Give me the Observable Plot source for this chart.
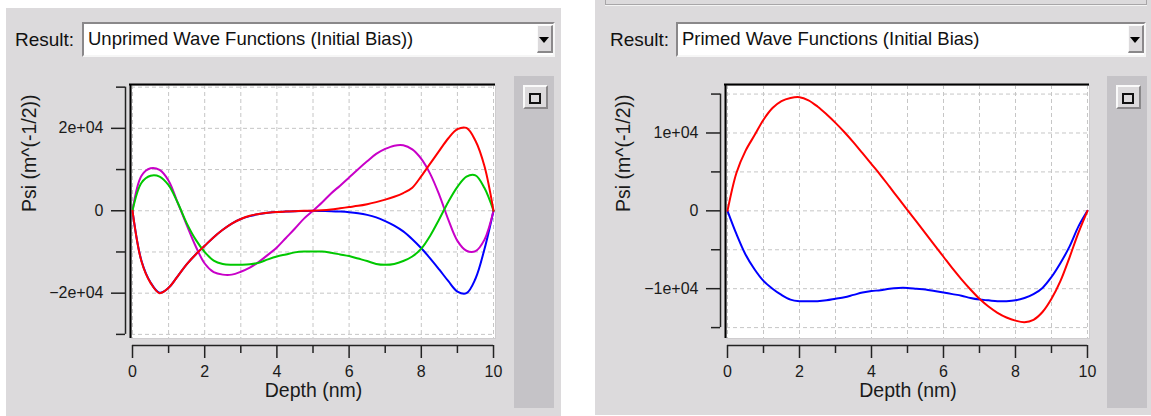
<!DOCTYPE html>
<html><head><meta charset="utf-8">
<script src="https://cdn.jsdelivr.net/npm/d3@7"></script>
<script src="https://cdn.jsdelivr.net/npm/@observablehq/plot@0.6"></script>
<style>
html,body{margin:0;padding:0;background:#fff;width:1151px;height:416px;overflow:hidden;font-family:"Liberation Sans",Arial,sans-serif;}
.panel{position:absolute;background:#dcdadc;}
.topbox{position:absolute;box-sizing:border-box;border-left:1px solid #a8a6a8;border-right:1px solid #a8a6a8;border-bottom:1px solid #a8a6a8;box-shadow:0 1px 0 #f4f4f4;}
.combo{position:absolute;background:#fff;box-sizing:border-box;border-top:2px solid #8a888a;border-left:2px solid #8a888a;border-bottom:2px solid #f6f6f6;border-right:2px solid #f6f6f6;}
.combo .txt{position:absolute;left:4px;top:4px;font-size:18.5px;line-height:22px;color:#111;white-space:nowrap;}
.lbl{position:absolute;font-size:19px;line-height:22px;color:#111;white-space:nowrap;}
.arrow{position:absolute;top:1px;width:16px;height:28px;box-sizing:border-box;background:#dcdadc;border-top:1px solid #fafafa;border-left:1px solid #fafafa;border-bottom:2px solid #8a888a;border-right:2px solid #8a888a;}
.arrow .tri{position:absolute;left:1px;top:11px;width:0;height:0;border-left:5.5px solid transparent;border-right:5.5px solid transparent;border-top:6px solid #000;}
.bar{position:absolute;background:#c5c3c7;}
.btn{position:absolute;box-sizing:border-box;background:#dcdadc;border-top:2px solid #fafafa;border-left:2px solid #fafafa;border-bottom:2px solid #8a888a;border-right:2px solid #8a888a;}
.btn .sq{position:absolute;box-sizing:border-box;border:2px solid #111;}
.plotbox{position:absolute;}
</style></head>
<body>
<div class="panel" style="left:6px;top:8px;width:555px;height:408px;"></div>
<div class="panel" style="left:595px;top:0px;width:556px;height:415px;"></div>
<div class="topbox" style="left:605px;top:-10px;width:542px;height:15px;"></div>

<div class="lbl" style="left:15px;top:29px;">Result:</div>
<div class="combo" style="left:82px;top:22px;width:473px;height:35px;">
  <div class="txt">Unprimed Wave Functions (Initial Bias))</div>
  <div class="arrow" style="left:453px;"><div class="tri"></div></div>
</div>
<div class="lbl" style="left:610px;top:29px;">Result:</div>
<div class="combo" style="left:676px;top:22px;width:470px;height:35px;">
  <div class="txt">Primed Wave Functions (Initial Bias)</div>
  <div class="arrow" style="left:450px;"><div class="tri"></div></div>
</div>

<div class="bar" style="left:514px;top:76px;width:40px;height:332px;"></div>
<div class="btn" style="left:523px;top:85px;width:25px;height:24px;"><div class="sq" style="left:4px;top:6px;width:12px;height:11px;"></div></div>
<div class="bar" style="left:1107px;top:76px;width:40px;height:332px;"></div>
<div class="btn" style="left:1116px;top:85px;width:25px;height:24px;"><div class="sq" style="left:4px;top:6px;width:12px;height:11px;"></div></div>

<div class="plotbox" id="left" style="left:6px;top:70px;"></div>
<div class="plotbox" id="right" style="left:595px;top:70px;"></div>

<script>
// ---------- data ----------
const depth = [0,0.25,0.5,0.75,1,1.25,1.5,1.75,2,2.25,2.5,2.75,3,3.25,3.5,3.75,4,4.25,4.5,4.75,5,5.25,5.5,5.75,6,6.25,6.5,6.75,7,7.25,7.5,7.75,8,8.25,8.5,8.75,9,9.25,9.5,9.75,10];

// Left chart: Unprimed wave functions (Psi, m^(-1/2))
const unprimedBlue = [0,-12200,-17400,-19900,-18700,-15900,-13000,-10600,-8500,-6400,-4600,-3100,-2000,-1300,-800,-500,-300,-200,-100,-50,0,-50,-100,-200,-350,-600,-1000,-1600,-2500,-3600,-5000,-6900,-9100,-11600,-14300,-17100,-19600,-20000,-16500,-9300,0];
const unprimedMagenta = [0,8500,10300,9900,7300,2000,-3400,-8600,-12800,-14900,-15500,-15500,-14800,-13800,-12400,-10700,-8900,-6600,-4300,-1900,0,2000,4200,6100,8100,10100,12000,13800,15000,15800,15900,14900,12600,8900,3800,-2200,-7300,-9700,-9800,-7000,0];
const unprimedGreen = [0,6800,8500,8300,6200,2000,-3000,-7000,-10000,-12100,-12900,-13100,-13100,-13000,-12600,-11800,-11100,-10600,-10100,-9900,-9900,-9900,-10200,-10600,-11000,-11600,-12200,-12900,-13100,-12900,-12200,-11100,-9200,-6000,-2000,2200,5800,8300,8600,5500,0];
const unprimedRed = [0,-12300,-17500,-20000,-18700,-15900,-13000,-10600,-8500,-6400,-4600,-3100,-2000,-1200,-800,-500,-300,-200,-100,0,0,100,300,600,900,1200,1600,2100,2700,3400,4300,5600,8400,11500,14600,17600,19800,20100,17000,10800,0];

// Right chart: Primed wave functions
const primedBlue = [0,-3000,-5600,-7500,-9000,-10000,-10800,-11400,-11600,-11600,-11600,-11500,-11300,-11100,-10800,-10500,-10300,-10200,-10000,-9900,-9900,-10000,-10100,-10300,-10500,-10700,-10900,-11200,-11400,-11500,-11600,-11600,-11500,-11200,-10700,-9900,-8500,-6700,-4600,-2000,0];
const primedRed = [0,4900,7700,9700,11700,13200,14100,14500,14600,14200,13400,12400,11300,10100,8800,7400,6000,4600,3100,1600,100,-1400,-2900,-4400,-5900,-7400,-8800,-10100,-11300,-12300,-13100,-13700,-14100,-14300,-14000,-13000,-11300,-9000,-6000,-2800,0];

const seriesColors = {blue:"#0000ff", magenta:"#c800c8", green:"#00c800", red:"#ff0000"};

// ticks
const xMajorTicks = [0,2,4,6,8,10];
const xMinorTicks = [1,3,5,7,9];
const xGridTicks = [0,1,2,3,4,5,6,7,8,9,10];

const leftYMajor = [-20000,0,20000];
const leftYMajorLabels = ["\u22122e+04","0","2e+04"];
const leftYMinor = [-30000,-10000,10000,30000];
const leftYGrid = [-30000,-20000,-10000,0,10000,20000,30000];

const rightYMajor = [-10000,0,10000];
const rightYMajorLabels = ["\u22121e+04","0","1e+04"];
const rightYMinor = [-15000,-5000,5000,15000];
const rightYGrid = [-15000,-10000,-5000,0,5000,10000,15000];

const xTitle = "Depth (nm)";
const yTitle = "Psi (m^(-1/2))";

// ---------- drawing ----------
function rows(values){ return depth.map((d,i)=>({depth:d, psi:values[i]})); }

function panel(cfg){
  const gridStyle = {stroke:"#c6c6c6", strokeOpacity:1, strokeDasharray:"4,3", strokeWidth:1};
  const axisCol = "#222";
  const fmt = d => cfg.yMajorLabels[cfg.yMajor.indexOf(d)];
  const lines = cfg.series.map(([vals,col]) => Plot.line(rows(vals), {x:"depth", y:"psi", stroke:col, strokeWidth:2, curve:"catmull-rom"}));
  return Plot.plot({
    width: cfg.width, height: 346,
    marginLeft: cfg.marginLeft, marginRight: cfg.marginRight, marginTop: 15, marginBottom: 78,
    style: {background:"transparent", fontFamily:"'Liberation Sans', Arial, sans-serif", fontSize:"16px", color:"#1a1a1a", overflow:"visible"},
    x: {domain: cfg.xDomain, label: null},
    y: {domain: cfg.yDomain, label: null},
    marks: [
      Plot.frame({fill:"white", stroke:"#cfcdcf"}),
      Plot.gridX(xGridTicks, gridStyle),
      Plot.gridY(cfg.yGrid, gridStyle),
      Plot.ruleY([cfg.yDomain[1]], {stroke:"#000", strokeWidth:2, dy:-1, insetLeft:-2}),
      Plot.ruleX([cfg.xDomain[0]], {stroke:"#000", strokeWidth:2, dx:-1}),
      Plot.ruleY([cfg.yDomain[0]], {x1:xMajorTicks[0], x2:xMajorTicks[xMajorTicks.length-1], dy:7, stroke:axisCol, strokeWidth:1.5}),
      Plot.ruleX([cfg.xDomain[0]], {y1:cfg.yMinor[0], y2:cfg.yMinor[cfg.yMinor.length-1], dx:-6, stroke:axisCol, strokeWidth:1.5}),
      Plot.axisX(xMajorTicks, {anchor:"bottom", tickSize:13, dy:7, tickPadding:7, stroke:axisCol, strokeWidth:1.5, fontSize:16, label:null}),
      Plot.axisX(xMinorTicks, {anchor:"bottom", tickSize:8, dy:7, text:null, stroke:axisCol, strokeWidth:1.5, label:null}),
      Plot.axisY(cfg.yMajor, {anchor:"left", tickSize:14, dx:-6, tickPadding:8, tickFormat:fmt, stroke:axisCol, strokeWidth:1.5, fontSize:16, label:null}),
      Plot.axisY(cfg.yMinor, {anchor:"left", tickSize:9, dx:-6, text:null, stroke:axisCol, strokeWidth:1.5, label:null}),
      Plot.text([xTitle], {frameAnchor:"bottom", dy:58, fontSize:19.5, fill:"#1a1a1a"}),
      Plot.text([yTitle], {frameAnchor:"left", dx:cfg.yTitleDx, rotate:-90, fontSize:19.5, fill:"#1a1a1a"}),
      ...lines
    ]
  });
}

document.getElementById("left").append(panel({
  width:508, marginLeft:125, marginRight:19,
  xDomain:[-0.0277, 10.055], yDomain:[-31000, 30400],
  yMajor:leftYMajor, yMajorLabels:leftYMajorLabels, yMinor:leftYMinor, yGrid:leftYGrid,
  yTitleDx:-102,
  series:[[unprimedBlue,seriesColors.blue],[unprimedMagenta,seriesColors.magenta],[unprimedGreen,seriesColors.green],[unprimedRed,seriesColors.red]]
}));
document.getElementById("right").append(panel({
  width:512, marginLeft:131, marginRight:18,
  xDomain:[-0.0278, 10.056], yDomain:[-16400, 16100],
  yMajor:rightYMajor, yMajorLabels:rightYMajorLabels, yMinor:rightYMinor, yGrid:rightYGrid,
  yTitleDx:-103,
  series:[[primedBlue,seriesColors.blue],[primedRed,seriesColors.red]]
}));
</script>
</body></html>
